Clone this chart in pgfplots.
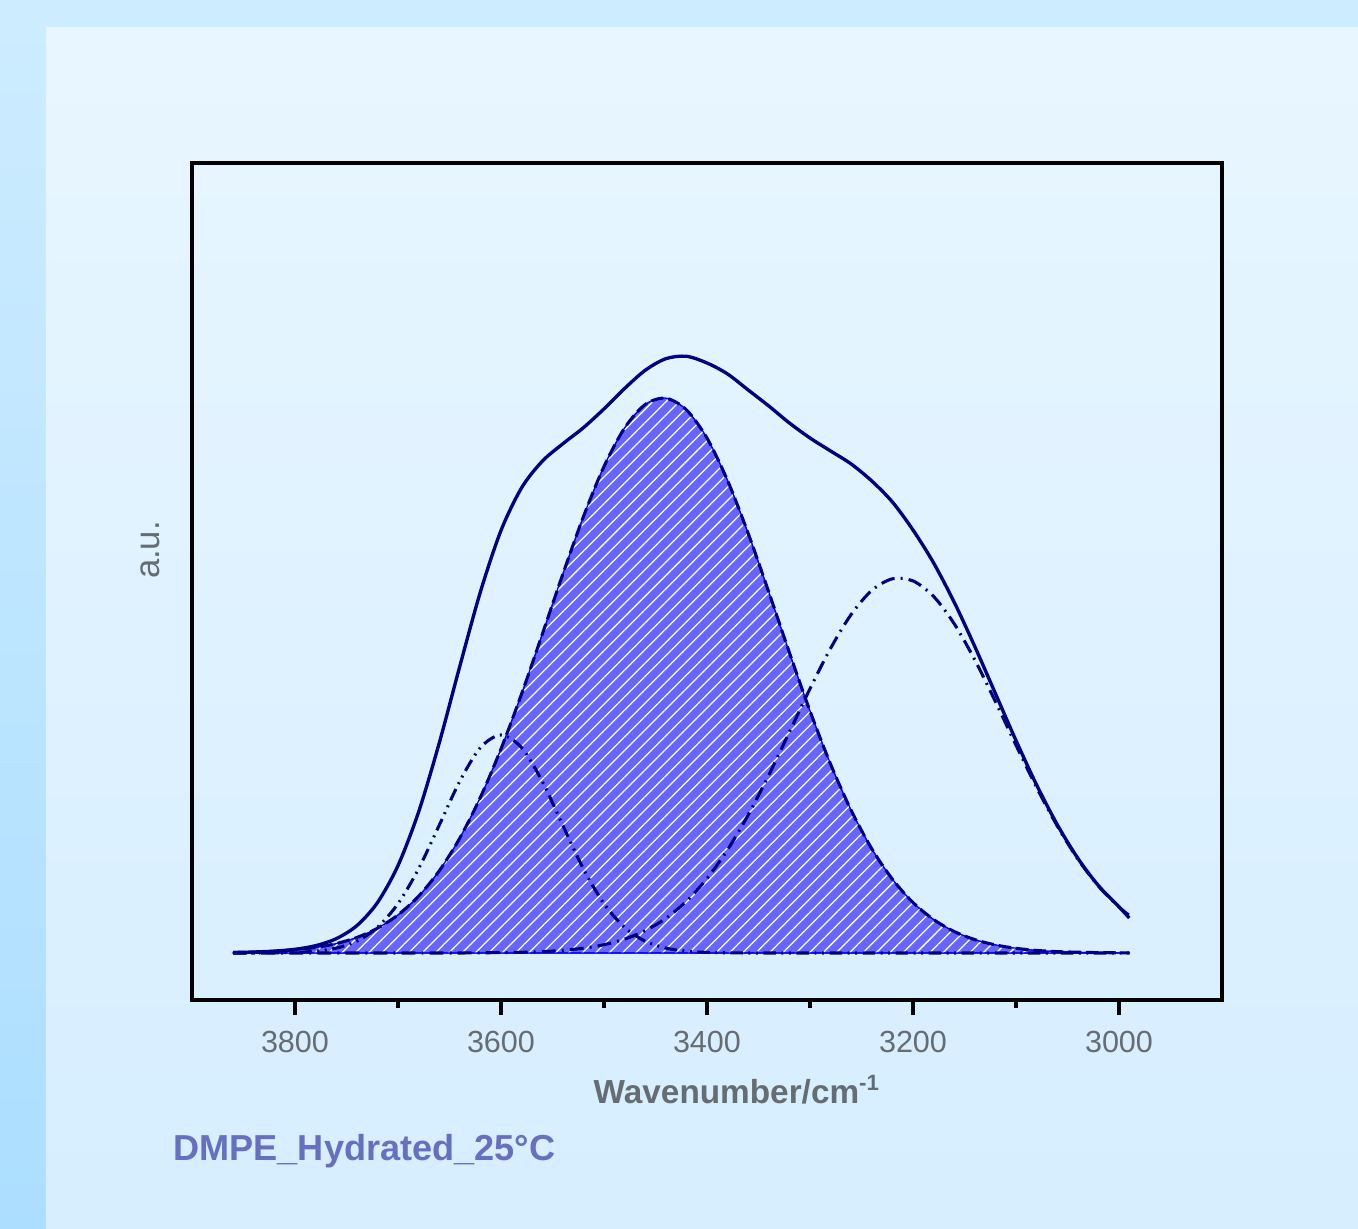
\documentclass[border=0pt]{standalone}
\usepackage{fontspec}
\setmainfont{Liberation Sans}
\usepackage{pgfplots}
\pgfplotsset{compat=1.18}
\usepackage{pgfplotstable}
\usetikzlibrary{patterns.meta}
\definecolor{navy}{RGB}{0,0,128}
\definecolor{fillblue}{RGB}{102,102,255}
\definecolor{labgray}{RGB}{101,109,114}
\definecolor{titleblue}{RGB}{102,112,192}
\definecolor{outertop}{RGB}{205,236,255}
\definecolor{outerbot}{RGB}{172,222,255}
\definecolor{innertop}{RGB}{232,246,255}
\definecolor{innerbot}{RGB}{214,238,255}

\pgfplotstableread{
x c1 c2 c3 tot
3860 0 0.5 0 0.5
3840 0 0.9 0 1.0
3820 0.2 1.7 0 1.9
3800 0.6 3.2 0 3.7
3780 1.8 5.5 0 7.3
3760 4.9 9.4 0 14.3
3740 11.8 15.5 0 27.3
3720 25.6 24.7 0 50.3
3700 49.3 38.1 0 87.4
3680 84.2 56.8 0 141.0
3660 127.7 82.1 0 209.8
3640 171.8 114.9 0 286.7
3620 205.4 155.7 0.2 361.1
3600 218.0 204.1 0.4 422.5
3580 205.4 259.1 0.7 465.2
3560 171.8 318.5 1.4 491.7
3540 127.7 378.8 2.7 509.2
3520 84.2 436.3 4.8 525.3
3500 49.3 486.5 8.3 544.1
3480 25.6 525.0 13.9 564.5
3460 11.8 548.5 22.4 582.7
3440 4.9 554.8 34.6 594.3
3420 1.8 543.2 51.7 596.7
3400 0.6 514.9 74.5 590.0
3380 0.2 472.4 103.3 579.0
3360 0 419.6 138.1 563.0
3340 0 360.9 177.9 547.0
3320 0 300.4 220.9 530.0
3300 0 242.0 264.3 515.0
3280 0 188.8 304.7 502.0
3260 0 142.6 338.6 489.0
3240 0 104.2 362.6 472.0
3220 0 73.8 374.2 451.0
3200 0 50.5 372.1 423.0
3180 0 33.5 356.6 390.1
3160 0 21.5 329.3 350.8
3140 0 13.4 293.1 306.5
3120 0 8.1 251.4 259.5
3100 0 4.7 207.8 212.5
3080 0 2.6 165.5 168.1
3060 0 1.4 127.1 128.5
3040 0 0.8 94.0 94.8
3020 0 0.4 67.0 67.4
3000 0 0.2 46.0 46.2
2990 0 0.1 37.7 35.0
}\spec

\begin{document}
\begin{tikzpicture}
\shade[top color=outertop, bottom color=outerbot] (-69.12pt,-82.08pt) rectangle (419.76pt,360pt);
\shade[top color=innertop, bottom color=innerbot] (-52.56pt,-82.08pt) rectangle (419.76pt,349.92pt);
\begin{axis}[at={(0,0)}, anchor=south west, scale only axis,
  width=370.8pt, height=301.32pt,
  x dir=reverse, xmin=2900, xmax=3900, ymin=-47, ymax=790,
  xtick={3000,3200,3400,3600,3800}, minor x tick num=1, ytick=\empty,
  xtick pos=bottom, tick align=outside,
  major tick length=5.4pt, minor tick length=2.9pt,
  every tick/.style={black, line width=1.1pt},
  axis line style={line width=1.1pt, black},
  /pgf/number format/1000 sep={}, /pgf/number format/assume math mode=true,
  xticklabel style={font=\fontsize{11}{13}\selectfont, text=labgray, yshift=-2.3pt},
]
\addplot[draw=blue, line width=0.4pt, fill=fillblue, smooth,
  postaction={pattern={Lines[angle=45,distance=3.4pt,line width=0.45pt]}, pattern color=white}]
  table[x=x,y=c2]{\spec} \closedcycle;
\addplot[navy, line width=1.1pt, smooth,
  dash pattern=on 4.5pt off 2pt on 0.7pt off 2pt on 0.7pt off 2pt]
  table[x=x,y=c1]{\spec};
\addplot[navy, line width=1.1pt, smooth,
  dash pattern=on 5pt off 2.2pt on 0.7pt off 2.2pt]
  table[x=x,y=c3]{\spec};
\addplot[navy, line width=1.1pt, smooth, dash pattern=on 4.5pt off 1.8pt]
  table[x=x,y=c2]{\spec};
\addplot[navy, line width=1.2pt, smooth] table[x=x,y=tot]{\spec};
\end{axis}
\node[anchor=base west, inner sep=0, font=\bfseries\fontsize{12}{14}\selectfont, text=labgray]
  at (144.4pt,-37.08pt) {Wavenumber/cm\textsuperscript{-1}};
\node[rotate=90, inner sep=0, font=\fontsize{12.5}{14}\selectfont, text=labgray]
  at (-15.1pt,162pt) {a.u.};
\node[anchor=base west, inner sep=0, font=\bfseries\fontsize{13}{15}\selectfont, text=titleblue]
  at (-6.84pt,-57.6pt) {DMPE\_Hydrated\_25°C};
\pgfresetboundingbox
\useasboundingbox (-69.12pt,-82.08pt) rectangle (419.76pt,360pt);
\end{tikzpicture}
\end{document}
